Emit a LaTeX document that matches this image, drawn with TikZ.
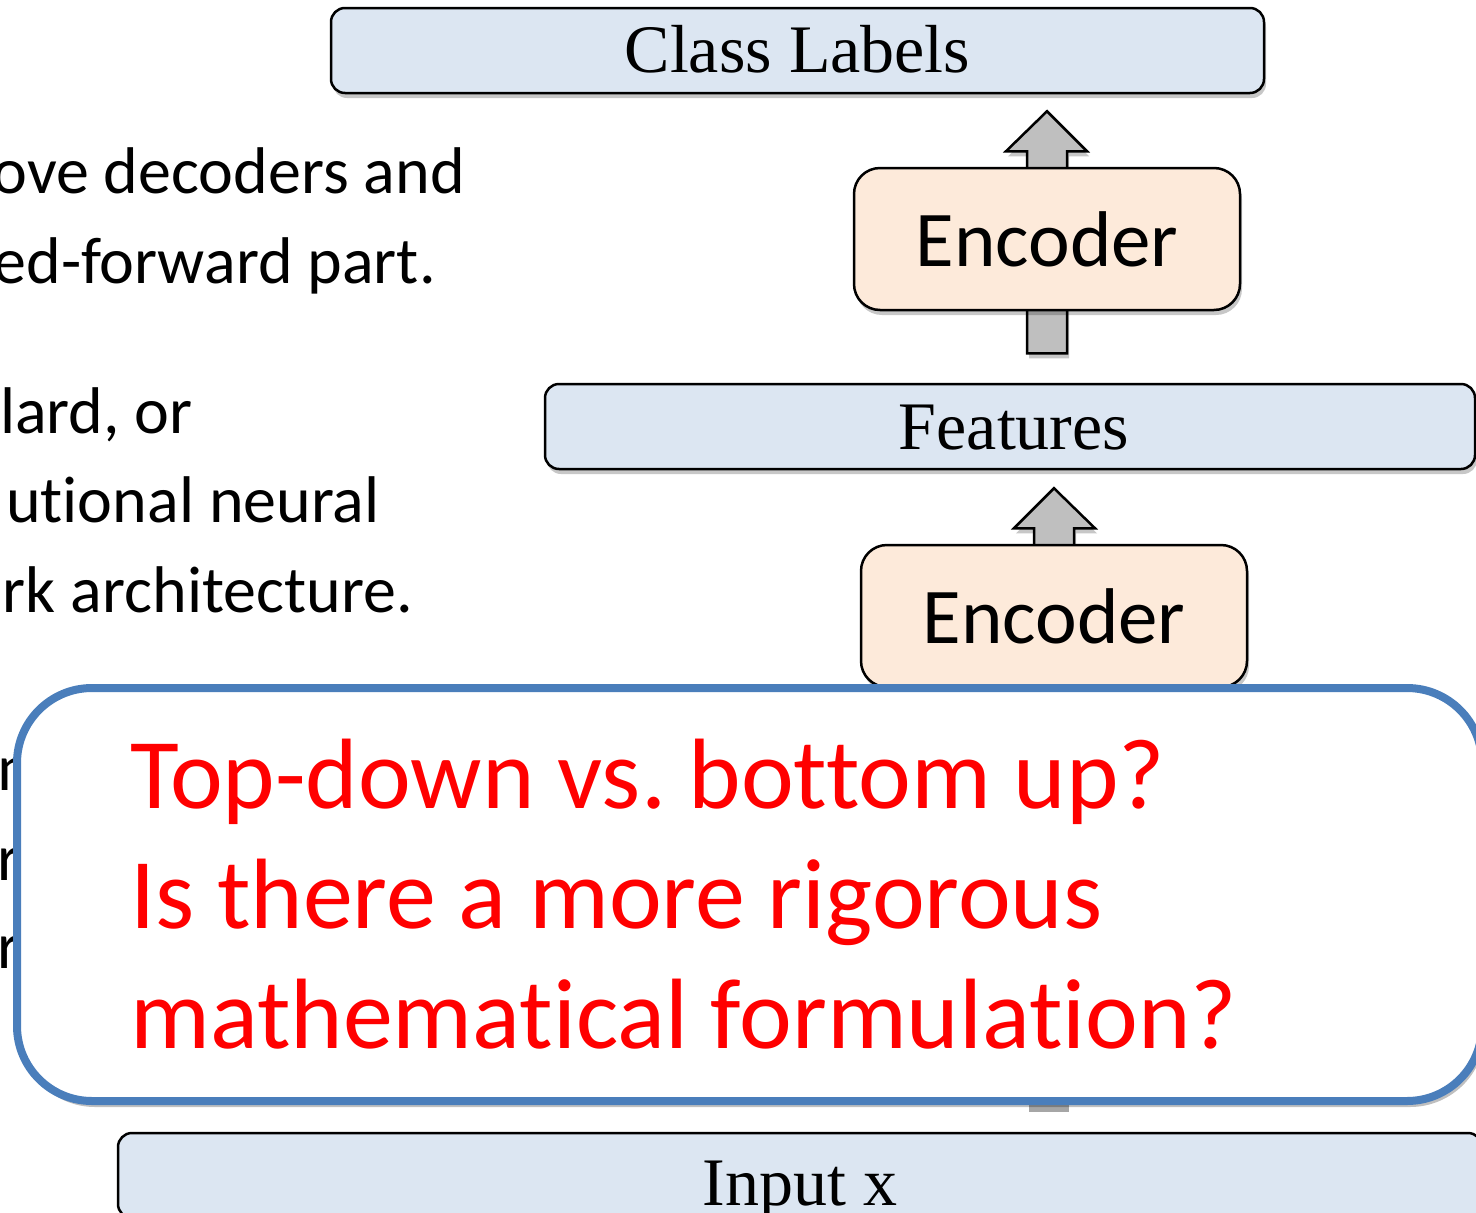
\documentclass[tikz,border=0pt]{standalone}
\usepackage{fontspec}
\setmainfont{Liberation Serif}
\newfontfamily\calibri[Ligatures=NoCommon]{Carlito}
\usetikzlibrary{shadows,calc}
\pgfdeclarelayer{background}
\pgfsetlayers{background,main}
\frenchspacing

\definecolor{boxblue}{HTML}{DCE6F2}
\definecolor{encpeach}{HTML}{FDEADA}
\definecolor{arrowgray}{HTML}{BFBFBF}
\definecolor{calloutblue}{HTML}{4A7EBB}

\tikzset{
  softshadow/.style={drop shadow={shadow xshift=2pt, shadow yshift=-5pt, opacity=0.22, fill=black}},
  layerbox/.style={draw=black, line width=2.5pt, fill=boxblue, rounded corners=14pt,
    inner sep=0pt, minimum height=85pt, softshadow},
  layerlabel/.style={anchor=base, inner sep=0pt, font=\fontsize{68}{76}\selectfont},
  encbox/.style={draw=black, line width=2.5pt, fill=encpeach, rounded corners=26pt,
    minimum width=386pt, minimum height=142pt, inner sep=0pt,
    font=\calibri\fontsize{79}{90}\selectfont, softshadow},
  blockarrow/.style={draw=black, line width=2.5pt, fill=arrowgray, line join=miter, softshadow},
  sidetext/.style={anchor=base east, inner sep=0pt, font=\calibri\fontsize{66}{80}\selectfont},
  hiddentext/.style={anchor=base west, inner sep=0pt, font=\calibri\fontsize{66}{80}\selectfont},
  callout/.style={draw=calloutblue, line width=8pt, fill=white, rounded corners=75pt,
    drop shadow={shadow xshift=3pt, shadow yshift=-6pt, opacity=0.25, fill=black}},
  question/.style={anchor=base west, inner sep=0pt, text=red,
    font=\calibri\fontsize{100}{120}\selectfont},
}

\begin{document}
\begin{tikzpicture}[x=1pt, y=-1pt]
  \useasboundingbox (0,0) rectangle (1476,1213);
  \clip (0,0) rectangle (1476,1213);

  % layer boxes
  \node[layerbox, minimum width=933pt] (labels) at (797.5,50.5) {};
  \node[layerlabel] at (797.5,72) {Class Labels};
  \node[layerbox, minimum width=930pt] (features) at (1010,426.5) {};
  \node[layerlabel] at (1014,449) {Features};
  \node[layerbox, minimum width=1364pt] (input) at (800,1175.5) {};
  \node[layerlabel] at (800,1205) {Input x};

  % encoders
  \node[encbox] (enc1) at (1047,239) {Encoder};
  \node[encbox] (enc2) at (1054,616) {Encoder};

  % block arrows behind the encoders
  \begin{pgfonlayer}{background}
    \coordinate (a1base) at ($(enc1.south)+(0,42)$);
    \coordinate (a1tip)  at ($(enc1.south |- labels.south)+(0,17)$);
    \draw[blockarrow] ($(a1base)+(-20,0)$) -- ($(a1tip)+(-20,40)$) -- ($(a1tip)+(-41,40)$)
      -- (a1tip) -- ($(a1tip)+(40,40)$) -- ($(a1tip)+(20,40)$) -- ($(a1base)+(20,0)$) -- cycle;
    \coordinate (a2base) at ($(enc2.north)+(0,20)$);
    \coordinate (a2tip)  at ($(enc2.north |- features.south)+(0,18)$);
    \draw[blockarrow] ($(a2base)+(-20,0)$) -- ($(a2tip)+(-20,40)$) -- ($(a2tip)+(-40,40)$)
      -- (a2tip) -- ($(a2tip)+(41,40)$) -- ($(a2tip)+(20,40)$) -- ($(a2base)+(20,0)$) -- cycle;
  \end{pgfonlayer}

  % side text
  \node[sidetext] (t1) at (465,193) {ove decoders and};
  \node[sidetext] (t2) at (436,283) {ed-forward part.};
  \node[sidetext] (t3) at (193,433) {lard, or};
  \node[sidetext] (t4) at (380,522) {utional neural};
  \node[sidetext] (t5) at (413,612) {rk architecture.};
  \node[hiddentext] (t6) at (-3,790) {m};
  \node[hiddentext] (t7) at (-3,880) {rn};
  \node[hiddentext] (t8) at (-3,968) {ro};

  % shaft shadow peeking below the callout
  \fill[black, opacity=0.35] (1029,1100) rectangle (1069,1112);

  % callout with questions
  \node[callout, minimum width=1465pt, minimum height=413pt, inner sep=0pt] (box) at (749.5,894.5) {};
  \node[question] (q1) at (130,808) {Top-down vs. bottom up?};
  \node[question] (q2) at (130,928) {Is there a more rigorous};
  \node[question] (q3) at (130,1048) {mathematical formulation?};
\end{tikzpicture}
\end{document}
